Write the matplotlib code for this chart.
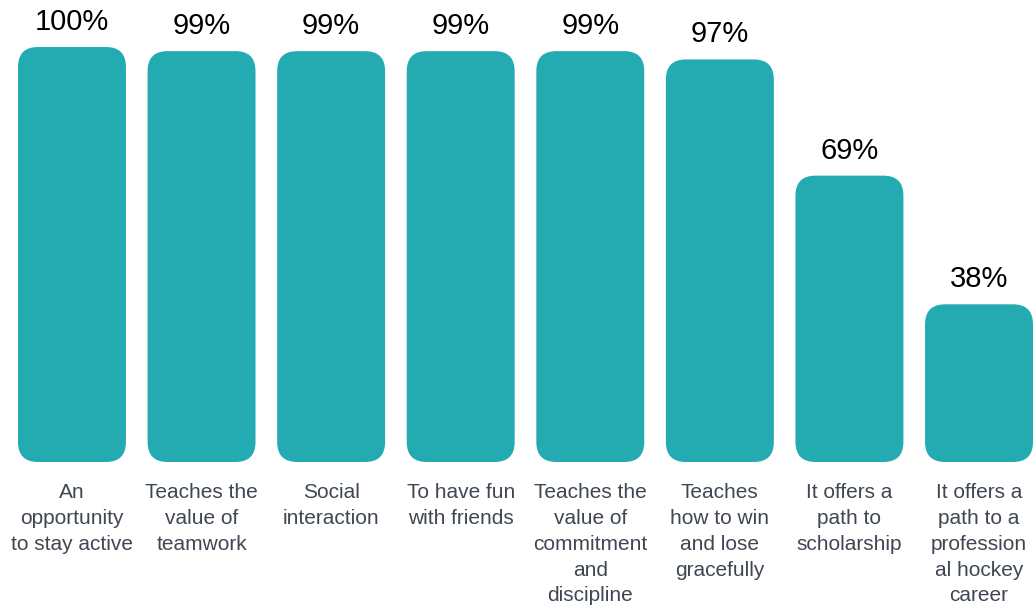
import matplotlib.pyplot as plt
from matplotlib.patches import FancyBboxPatch

categories = [
    "An\nopportunity\nto stay active",
    "Teaches the\nvalue of\nteamwork",
    "Social\ninteraction",
    "To have fun\nwith friends",
    "Teaches the\nvalue of\ncommitment\nand\ndiscipline",
    "Teaches\nhow to win\nand lose\ngracefully",
    "It offers a\npath to\nscholarship",
    "It offers a\npath to a\nprofession\nal hockey\ncareer",
]
values = [100, 99, 99, 99, 99, 97, 69, 38]

bar_color = "#23abb1"
label_color = "#3f4752"
width = 0.833
radius_px = 20

plt.rcParams['font.family'] = ['Liberation Sans', 'DejaVu Sans']

fig = plt.figure(figsize=(10.35, 6.13), dpi=100)
ax = fig.add_axes([0, 1 - 462 / 613, 1, 415 / 613])
ax.set_xlim(-0.5554, 7.432)
ax.set_ylim(0, 100)
ax.axis('off')

# pixel scale of data units, so corners stay round
x0, y0 = ax.transData.transform((0, 0))
x1, y1 = ax.transData.transform((1, 1))
px_per_x = x1 - x0
px_per_y = y1 - y0
aspect = px_per_x / px_per_y
r = radius_px / px_per_x

for i, (cat, v) in enumerate(zip(categories, values)):
    box = FancyBboxPatch((i - width / 2, 0), width, v,
                         boxstyle="round,pad=0,rounding_size=%f" % r,
                         mutation_aspect=aspect,
                         facecolor=bar_color, edgecolor='none')
    ax.add_patch(box)
    ax.annotate("%d%%" % v, (i, v), xytext=(0, 8), textcoords='offset points',
                ha='center', va='bottom', fontsize=21, color='black')
    ax.annotate(cat, (i, 0), xytext=(0, -15), textcoords='offset points',
                ha='center', va='top', fontsize=15, color=label_color,
                linespacing=1.46, annotation_clip=False)

fig.savefig("out.png", dpi=100)
